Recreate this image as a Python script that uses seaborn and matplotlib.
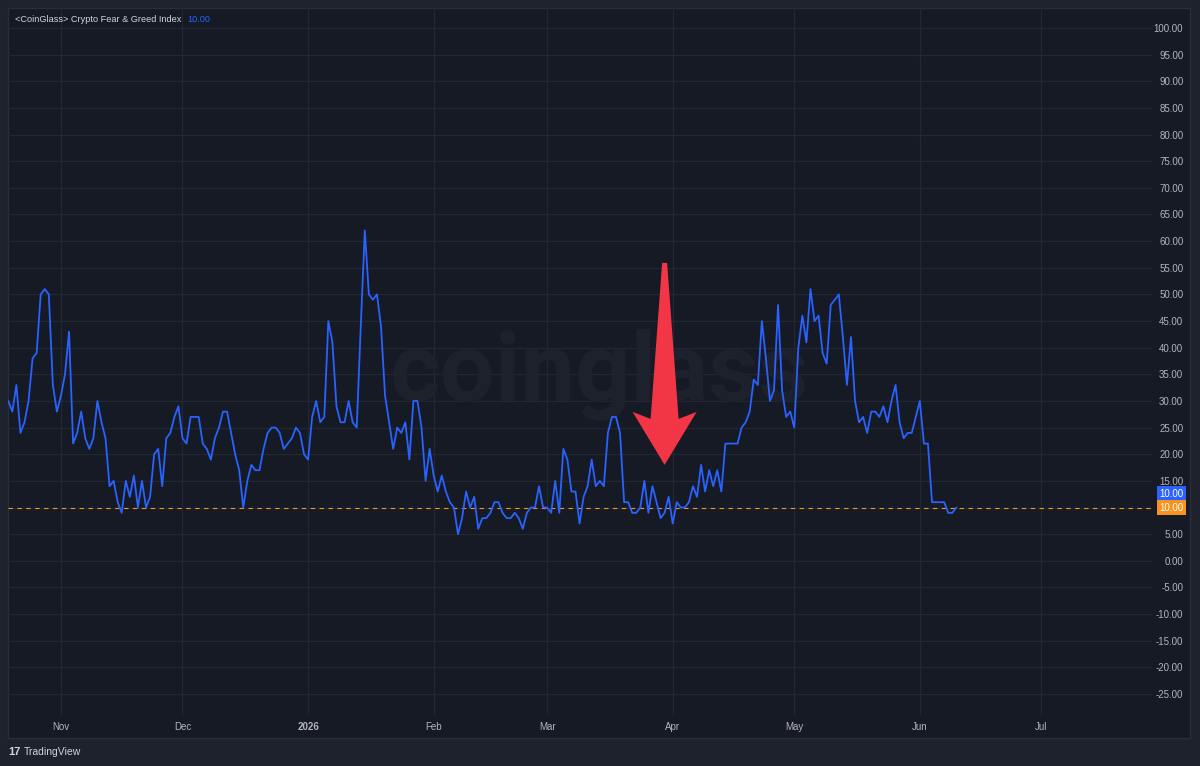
import matplotlib
matplotlib.use("Agg")
import matplotlib.pyplot as plt
import matplotlib.dates as mdates
import matplotlib.transforms as mtransforms
from matplotlib.patches import Rectangle, Polygon
import seaborn as sns
import numpy as np
import pandas as pd

# daily Crypto Fear & Greed values, starting 2025-10-19
start_date = "2025-10-19"
fear_greed = [
    30, 28, 33, 24, 26, 30, 38, 39, 50, 51,
    50, 33, 28, 31, 35, 43, 22, 24, 28, 23,
    21, 23, 30, 26, 23, 14, 15, 11, 9, 15,
    12, 16, 10, 15, 10, 12, 20, 21, 14, 23,
    24, 27, 29, 23, 22, 27, 27, 27, 22, 21,
    19, 23, 25, 28, 28, 24, 20, 17, 10, 15,
    18, 17, 17, 21, 24, 25, 25, 24, 21, 22,
    23, 25, 24, 20, 19, 27, 30, 26, 27, 45,
    41, 29, 26, 26, 30, 26, 25, 44, 62, 50,
    49, 50, 44, 31, 26, 21, 25, 24, 26, 19,
    30, 30, 25, 15, 21, 16, 13, 16, 13, 11,
    10, 5, 8, 13, 10, 12, 6, 8, 8, 9,
    11, 11, 9, 8, 8, 9, 8, 6, 9, 10,
    10, 14, 10, 10, 9, 15, 9, 21, 19, 13,
    13, 7, 12, 14, 19, 14, 15, 14, 24, 27,
    27, 24, 11, 11, 9, 9, 10, 15, 9, 14,
    11, 8, 9, 12, 7, 11, 10, 10, 11, 14,
    12, 18, 13, 17, 14, 17, 13, 22, 22, 22,
    22, 25, 26, 28, 34, 33, 45, 38, 30, 32,
    48, 32, 27, 28, 25, 40, 46, 41, 51, 45,
    46, 39, 37, 48, 49, 50, 42, 33, 42, 30,
    26, 27, 24, 28, 28, 27, 29, 26, 30, 33,
    26, 23, 24, 24, 27, 30, 22, 22, 11, 11,
    11, 11, 9, 9, 10,
]
last_value = 10.00
ref_level = 10.00
series_name = "<CoinGlass> Crypto Fear & Greed Index"
month_ticks = ["2025-11-01", "2025-12-01", "2026-01-01", "2026-02-01", "2026-03-01",
               "2026-04-01", "2026-05-01", "2026-06-01", "2026-07-01"]
month_labels = ["Nov", "Dec", "2026", "Feb", "Mar", "Apr", "May", "Jun", "Jul"]
price_ticks = [100, 95, 90, 85, 80, 75, 70, 65, 60, 55, 50, 45, 40, 35, 30, 25,
               20, 15, 10, 5, 0, -5, -10, -15, -20, -25]
arrow_date = "2026-03-30"
arrow_tip = 18

dates = pd.date_range(start_date, periods=len(fear_greed), freq="D")
df = pd.DataFrame({"date": dates, "value": fear_greed})

BG = "#161a25"
OUTER = "#1e222d"
GRID = "#232733"
TXT = "#b2b5be"
BLUE = "#2962ff"
ORANGE = "#f7931e"

sns.set_theme(style="dark")
plt.rcParams["font.family"] = ["Liberation Sans", "DejaVu Sans"]

W, H = 1200, 766
fig = plt.figure(figsize=(12, 7.66), dpi=100, facecolor=OUTER)


def fx(px):
    return px / W


def fy(py):
    return 1 - py / H


# chart panel
fig.patches.append(Rectangle((fx(8), fy(738)), fx(1190) - fx(8), fy(8) - fy(738),
                             transform=fig.transFigure, facecolor=BG,
                             edgecolor="#2a2e39", lw=1, zorder=-10))

ax = fig.add_axes([fx(8), fy(715), fx(1152) - fx(8), fy(8) - fy(715)])
ax.set_facecolor("none")
for s in ax.spines.values():
    s.set_visible(False)

# watermark
ax.text(fx(600), fy(375), "coinglass", transform=fig.transFigure, fontsize=70,
        fontweight="bold", family="Roboto", color="#1d212c", ha="center",
        va="center", zorder=1)

sns.lineplot(data=df, x="date", y="value", ax=ax, color=BLUE, lw=1.3, zorder=3)
ax.axhline(ref_level, color=ORANGE, lw=0.8, ls=(0, (4, 4)), zorder=2)

x0 = mdates.date2num(dates[0])
ax.set_xlim(x0 - 0.07, x0 + 282.3)
ax.set_ylim(-28.94, 103.75)

ax.set_xticks(pd.to_datetime(month_ticks), month_labels)
ax.set_yticks(price_ticks, [f"{v:.2f}" for v in price_ticks])
ax.yaxis.tick_right()
ax.grid(True, color=GRID, lw=0.9, zorder=0)
ax.set_axisbelow(True)
ax.tick_params(axis="x", length=0, pad=5, labelsize=7, labelcolor=TXT)
ax.tick_params(axis="y", length=0, pad=22.5, labelsize=7, labelcolor=TXT)
plt.setp(ax.get_yticklabels(), ha="right")
for lbl in ax.get_xticklabels():
    if lbl.get_text().isdigit():
        lbl.set_fontweight("bold")
ax.set_xlabel("")
ax.set_ylabel("")

# last value tags on the price scale
blend = mtransforms.blended_transform_factory(ax.transAxes, ax.transData)
ax.annotate(f"{last_value:.2f}", xy=(1, ref_level), xycoords=blend,
            xytext=(22.8, 10), textcoords="offset points", ha="right", va="center",
            fontsize=7, color="white", annotation_clip=False,
            bbox=dict(boxstyle="square,pad=0.25", fc=BLUE, ec="none"))
ax.annotate(f"{ref_level:.2f}", xy=(1, ref_level), xycoords=blend,
            xytext=(22.8, 0), textcoords="offset points", ha="right", va="center",
            fontsize=7, color="white", annotation_clip=False,
            bbox=dict(boxstyle="square,pad=0.25", fc=ORANGE, ec="none"))

# red arrow annotation (shape in pixels relative to the tip)
tip = ax.transData.transform((mdates.date2num(pd.Timestamp(arrow_date)), arrow_tip))
shape = [(0, 0), (32, 53), (14, 46), (2.5, 202), (-2.5, 202), (-14, 46), (-32, 53)]
pts = ax.transData.inverted().transform([(tip[0] + dx, tip[1] + dy) for dx, dy in shape])
ax.add_patch(Polygon(pts, closed=True, fc="#f23645", ec="none", zorder=5))

# legend line top-left
fig.text(fx(15), fy(19), series_name, fontsize=6.6, color="#d1d4dc", va="center")
fig.text(fx(187), fy(19), f"{last_value:.2f}", fontsize=6.6, color=BLUE, va="center")

# footer
fig.text(fx(8), fy(752), "17", fontsize=8, fontweight="bold", color="#d1d4dc", va="center")
fig.text(fx(24), fy(752), "TradingView", fontsize=7.5, color="#d1d4dc", va="center")

fig.savefig("out.png", dpi=100, facecolor=OUTER)
